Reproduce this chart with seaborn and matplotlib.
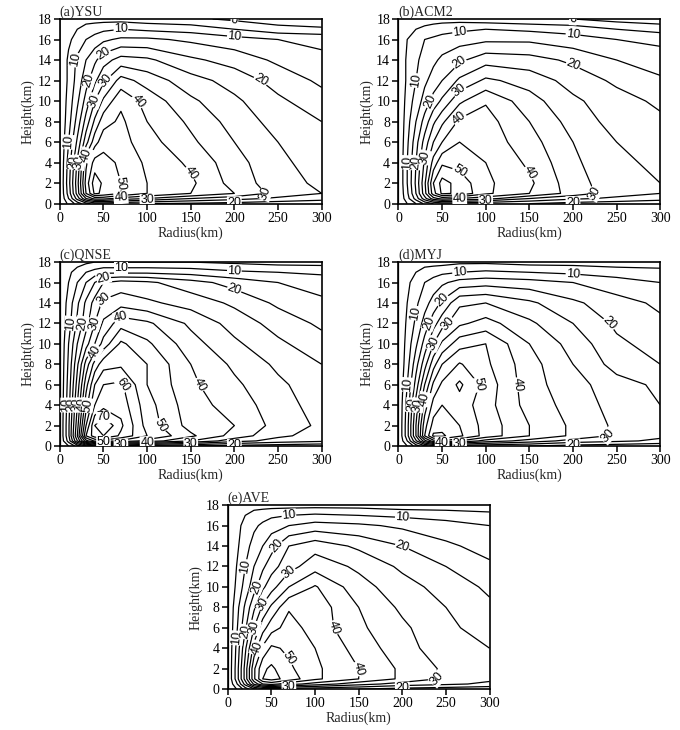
import numpy as np
import matplotlib
matplotlib.use("Agg")
import matplotlib.pyplot as plt
import seaborn as sns

# tangential wind (m/s) on a coarse radius-height grid
radius = [0, 10, 20, 30, 40, 50, 70, 100, 150, 200, 250, 300]
height = [0, 0.5, 1, 2, 4, 6, 8, 10, 12, 14, 16, 17, 18]

ysu = [
    [0, 6, 12, 18, 22, 22, 21, 20, 19, 18, 17, 16],
    [0, 10, 22, 35, 42, 42, 38, 35, 30, 27, 24, 22],
    [0, 12, 27, 45, 56, 54, 50, 45, 40, 35, 28, 25],
    [0, 13, 28, 47, 58, 54, 50, 45, 41, 33, 27, 24],
    [0, 12, 26, 44, 52, 52, 49, 44, 39, 32, 26, 23],
    [0, 10, 21, 33, 43, 48, 47, 42, 36, 30, 25, 22],
    [0, 8, 17, 27, 36, 43, 46, 40, 34, 28, 23, 20],
    [0, 7, 14, 22, 30, 36, 44, 38, 31, 26, 21, 17],
    [0, 6, 12, 18, 24, 29, 37, 33, 27, 23, 18, 14],
    [0, 6, 11, 15, 19, 23, 27, 26, 21, 18, 14, 11],
    [0, 4, 7, 10, 12, 14, 16, 16, 14, 12, 10, 9],
    [0, 3, 5, 7, 8, 9, 10, 9, 8, 5, 2, 1],
    [0, 1, 2, 3, 3, 3, 3, 2, 1, -1, -3, -4],
]

acm2 = [
    [0, 5, 10, 16, 20, 22, 22, 21, 20, 18, 17, 16],
    [0, 8, 17, 28, 38, 42, 40, 37, 30, 26, 24, 22],
    [0, 9, 20, 33, 48, 56, 54, 46, 40, 33, 27, 25],
    [0, 10, 21, 34, 50, 57, 53, 46, 41, 32, 27, 25],
    [0, 10, 20, 31, 42, 49, 48, 45, 39, 31, 26, 24],
    [0, 9, 18, 27, 35, 40, 45, 43, 37, 30, 25, 23],
    [0, 8, 15, 22, 29, 34, 41, 42, 35, 28, 23, 21],
    [0, 7, 12, 17, 22, 26, 34, 39.5, 32, 26, 22, 19],
    [0, 6, 10, 14, 17, 20, 26, 31, 28, 23, 19, 16],
    [0, 6, 9, 12, 14, 16, 19, 23, 22, 19, 15, 12],
    [0, 5, 8, 10, 11, 12, 13, 14, 14, 12, 10, 9],
    [0, 3, 5, 6, 7, 8, 9, 10, 9, 8, 5, 3],
    [0, 1, 2, 3, 3, 3, 3, 2, 1, 0, -2, -3],
]

qnse = [
    [0, 5, 12, 20, 24, 25, 24, 22, 20, 18, 17, 16],
    [0, 12, 30, 48, 56, 58, 54, 48, 40, 32, 28, 26],
    [0, 14, 35, 60, 68, 70, 64, 55, 46, 38, 31, 28],
    [0, 14, 33, 55, 70, 75, 66, 53, 43, 40, 33, 29],
    [0, 13, 30, 48, 60, 63, 63, 52, 42, 38, 32, 28],
    [0, 12, 27, 43, 55, 60, 61, 50, 41, 36, 31, 27],
    [0, 11, 24, 37, 47, 53, 54, 50, 40, 34, 29, 25],
    [0, 10, 20, 28, 35, 42, 51, 46, 37, 31, 26, 22],
    [0, 8, 16, 23, 30, 36, 43, 41, 34, 28, 23, 19],
    [0, 7, 14, 21, 27, 31, 33, 31, 28, 24, 19, 16],
    [0, 5, 10, 15, 20, 25, 27, 26, 22, 18, 15, 13],
    [0, 4, 7, 10, 12, 14, 14, 14, 13, 11, 10, 9],
    [0, 2, 3, 4, 5, 5, 5, 5, 5, 4, 3, 3],
]

myj = [
    [0, 5, 12, 19, 22, 23, 22, 21, 20, 18, 17, 16],
    [0, 10, 24, 38, 48, 50, 45, 38, 33, 28, 26, 24],
    [0, 13, 30, 50, 61, 61, 56, 48, 40, 34, 29, 26],
    [0, 13, 30, 48, 57, 58, 55, 48, 40, 34, 29, 26],
    [0, 12, 27, 42, 52, 55, 53, 47, 38, 33, 28, 25],
    [0, 10, 22, 35, 46, 51, 56, 48, 37, 32, 27, 24],
    [0, 8, 18, 28, 38, 45, 50.5, 46, 37, 30, 23, 20],
    [0, 7, 14, 22, 30, 36, 43, 45, 35, 28, 21, 18],
    [0, 6, 11, 17, 23, 28, 34, 37, 31, 25, 19, 16],
    [0, 5, 9, 13, 17, 21, 29, 30, 26, 21, 17, 14],
    [0, 4, 7, 10, 12, 14, 17, 18, 17, 15, 12, 10],
    [0, 3, 5, 7, 8, 9, 10, 11, 10, 9, 8, 7],
    [0, 1, 2, 3, 3, 3, 4, 4, 3, 3, 2, 2],
]

ave = [
    [0, 5, 12, 19, 22, 23, 22, 21, 20, 18, 17, 16],
    [0, 9, 22, 36, 45, 47, 42, 38, 32, 28, 26, 24],
    [0, 12, 27, 44, 55, 57, 53, 46, 40, 34, 29, 26],
    [0, 12, 27, 44, 54, 56, 51, 46, 40, 34, 29, 26],
    [0, 11, 24, 37, 46, 51, 49, 45, 38, 32, 27, 25],
    [0, 9, 19, 30, 38, 43, 47, 43, 36, 31, 26, 23],
    [0, 8, 16, 24, 31, 36, 44.5, 43, 35, 29, 25, 21],
    [0, 6, 12, 18, 24, 28, 35, 40.5, 32, 27, 23, 19],
    [0, 5, 10, 15, 19, 23, 28, 33, 29, 24, 20, 16],
    [0, 4, 8, 12, 15, 18, 25, 28, 24, 20, 16, 13],
    [0, 4, 6, 9, 11, 13, 15, 17, 16, 14, 12, 10],
    [0, 3, 5, 7, 8, 9, 10, 11, 10, 9, 8, 7],
    [0, 1, 2, 3, 3, 3, 3, 3, 3, 2, 2, 1],
]

titles = ["(a)YSU", "(b)ACM2", "(c)QNSE", "(d)MYJ", "(e)AVE"]
fields = [ysu, acm2, qnse, myj, ave]

# axes boxes in figure fraction [left, bottom, width, height]
boxes = [
    [0.088, 0.721, 0.385, 0.253],
    [0.586, 0.721, 0.385, 0.253],
    [0.088, 0.389, 0.385, 0.252],
    [0.586, 0.389, 0.385, 0.252],
    [0.335, 0.056, 0.385, 0.252],
]

sns.set_theme(style="ticks")
plt.rcParams["font.family"] = ["Liberation Serif", "DejaVu Serif"]
plt.rcParams["axes.linewidth"] = 1.2

levels = np.arange(0, 80, 5)
label_levels = [lv for lv in levels if lv % 10 == 0 and lv > 0]

# grid windows (rows, cols, labelled levels) used only to spread the labels
label_windows = [
    (slice(4, 6), slice(0, 5), label_levels),
    (slice(6, 11), slice(0, 6), label_levels),
    (slice(0, 13), slice(4, 9), label_levels),
    (slice(0, 13), slice(7, 12), [0] + label_levels),
]

fig = plt.figure(figsize=(6.8, 7.3), dpi=100)
rr, zz = np.meshgrid(radius, height)

for title, field, box in zip(titles, fields, boxes):
    ax = fig.add_axes(box)
    w = np.array(field, dtype=float)
    ax.contour(rr, zz, w, levels=levels, colors="black", linewidths=0.9)

    for rows, cols, lv in label_windows:
        sub_w = w[rows, cols]
        lv = [v for v in lv if sub_w.min() < v < sub_w.max()]
        if not lv:
            continue
        sub = ax.contour(rr[rows, cols], zz[rows, cols], sub_w, levels=lv,
                         colors="black", linewidths=0, alpha=0)
        lbls = ax.clabel(sub, levels=lv, fmt="%d", fontsize=9,
                         inline=False, colors="black")
        for t in lbls:
            t.set_family(["Liberation Sans", "DejaVu Sans"])
            t.set_alpha(1)
            t.set_bbox(dict(facecolor="white", edgecolor="none", pad=0.3))

    ax.set_xlim(0, 300)
    ax.set_ylim(0, 18)
    ax.set_xticks(range(0, 301, 50))
    ax.set_yticks(range(0, 19, 2))
    ax.tick_params(direction="out", length=4, width=1.1, labelsize=10,
                   pad=2, colors="black")
    for sp in ax.spines.values():
        sp.set_color("black")
    ax.set_xlabel("Radius(km)", fontsize=10, labelpad=1)
    ax.set_ylabel("Height(km)", fontsize=10, labelpad=2)
    ax.set_title(title, loc="left", fontsize=10, pad=2)

fig.savefig("out.png", dpi=100, facecolor="white")
